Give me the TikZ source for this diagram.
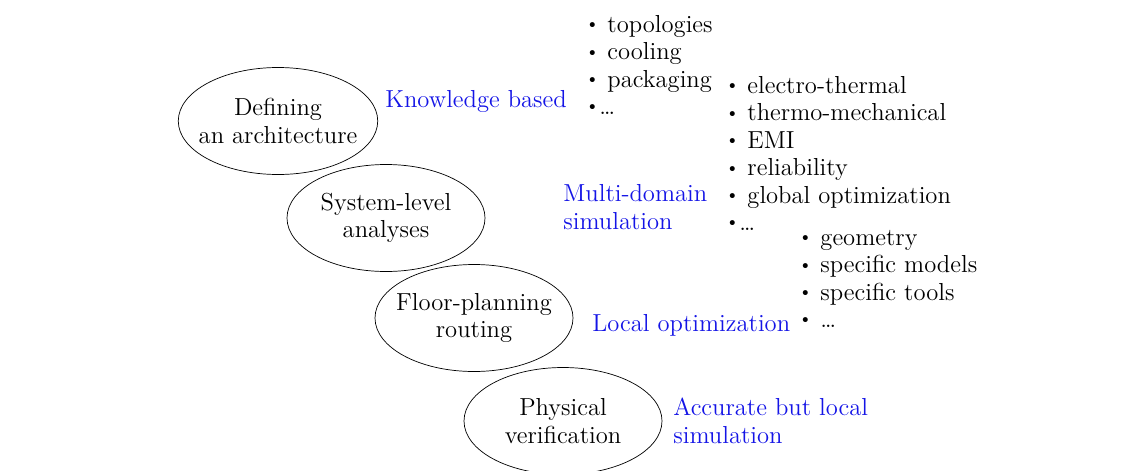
\documentclass[tikz,border=0pt]{standalone}
\usetikzlibrary{shapes.geometric}
\definecolor{lblue}{RGB}{20,20,230}
\newcommand\dotitem{\raisebox{.25ex}{\scalebox{.75}{\textbullet}}}

\begin{document}
\begin{tikzpicture}[
    stage/.style={ellipse, draw, thin, minimum width=3.96cm, minimum height=2.14cm, inner sep=-5pt, align=center},
    level/.style={anchor=base west, align=left, text=lblue, inner sep=0pt},
    items/.style={anchor=base west, align=left, inner sep=0pt},
    every node/.append style={font=\fontsize{14}{15.6}\selectfont}]
    \useasboundingbox (0,0) rectangle (22.9,9.4);

    % design stages
    \node[stage] (arch) at (5.56,6.98) {Defining\\an architecture};
    \node[stage] (sys) at (7.72,5.04) {System-level\\analyses};
    \node[stage] (floor) at (9.48,3.04) {Floor-planning\\routing};
    \node[stage] (phys) at (11.26,0.98) {Physical\\verification};

    % kind of simulation (base = last line)
    \node[level] (know) at (7.70,7.26) {Knowledge based};
    \node[level] (multi) at (11.26,4.82) {Multi-domain\\simulation};
    \node[level] (local) at (11.84,2.78) {Local optimization};
    \node[level] (accur) at (13.46,0.54) {Accurate but local\\simulation};

    % what is looked at
    \node[items] (list1) at (11.70,7.11) {\dotitem\ topologies\\\dotitem\ cooling\\\dotitem\ packaging\\\dotitem\ldots};
    \node[items] (list2) at (14.50,4.79) {\dotitem\ electro-thermal\\\dotitem\ thermo-mechanical\\\dotitem\ EMI\\\dotitem\ reliability\\\dotitem\ global optimization\\\dotitem\ldots};
    \node[items] (list3) at (15.96,2.85) {\dotitem\ geometry\\\dotitem\ specific models\\\dotitem\ specific tools\\\dotitem\ \ldots};
\end{tikzpicture}
\end{document}
